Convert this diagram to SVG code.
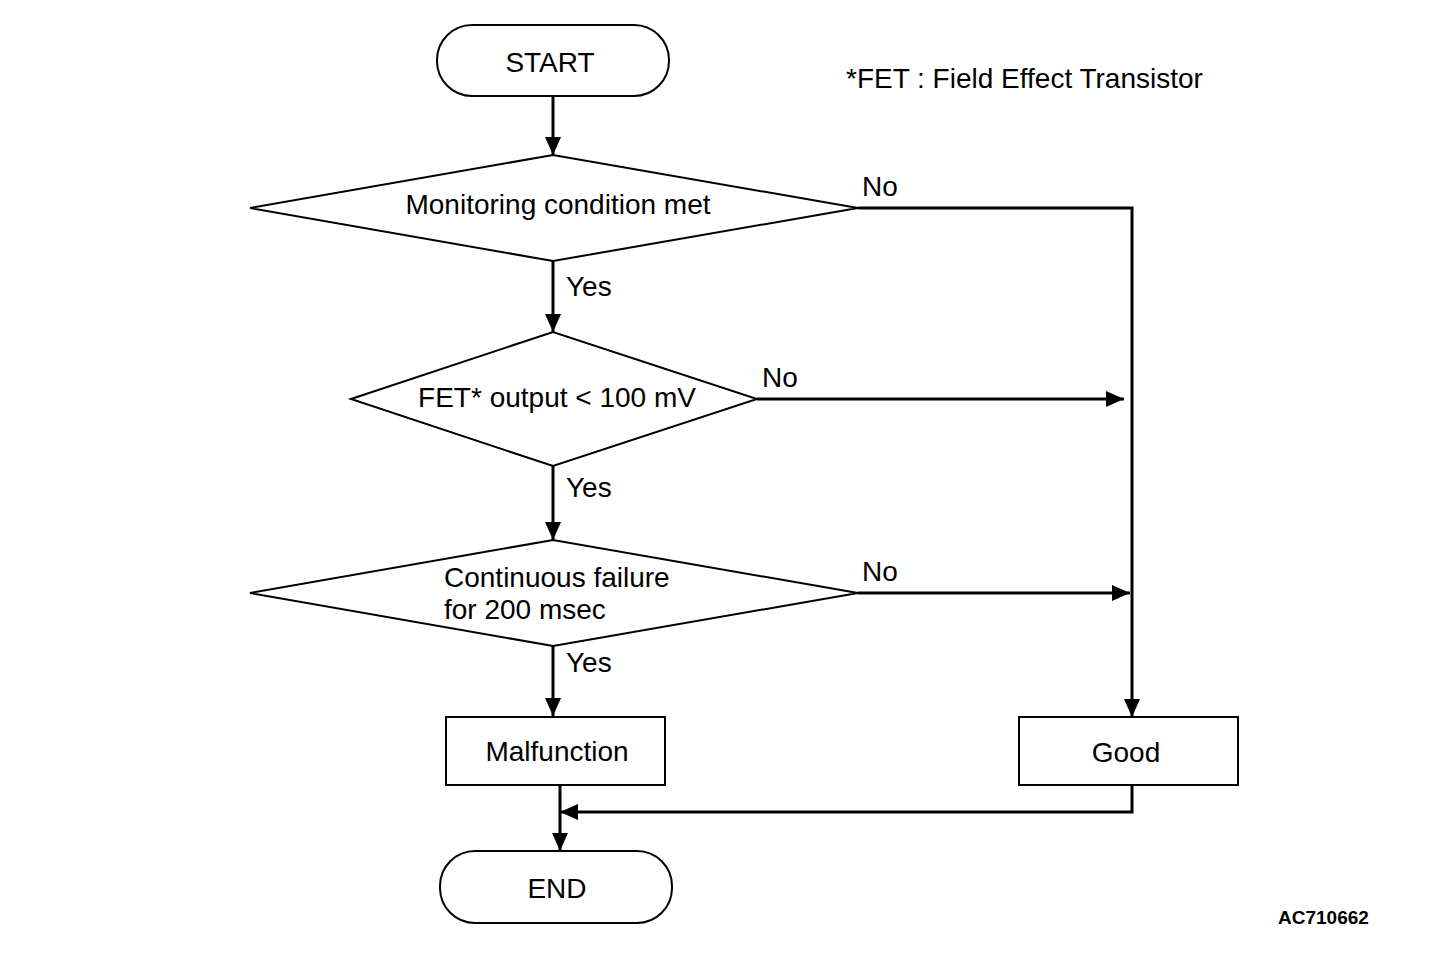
<svg xmlns="http://www.w3.org/2000/svg" width="1456" height="954" viewBox="0 0 1456 954">
<style>
.s{fill:#fff;stroke:#000;stroke-width:2}
.c{fill:none;stroke:#000;stroke-width:3}
text{font-family:"Liberation Sans",Arial,sans-serif;font-size:28px;fill:#000}
.m{text-anchor:middle}
</style>
<defs>
<marker id="b" markerWidth="18" markerHeight="20" refX="18" refY="10" orient="auto" markerUnits="userSpaceOnUse" viewBox="0 0 18 20">
<path d="M0,2 L18,10 L0,18 z" fill="#000"/>
</marker>
</defs>
<rect width="1456" height="954" fill="#fff"/>
<g id="connectors">
<path class="c" d="M553,96 V155" marker-end="url(#b)"/>
<path class="c" d="M553,261 V332" marker-end="url(#b)"/>
<path class="c" d="M553,466 V540" marker-end="url(#b)"/>
<path class="c" d="M553,646 V716" marker-end="url(#b)"/>
<path class="c" d="M858,208 H1132 V717" marker-end="url(#b)"/>
<path class="c" d="M757,399 H1124" marker-end="url(#b)"/>
<path class="c" d="M858,593 H1130" marker-end="url(#b)"/>
<path class="c" d="M1132,785 V812 H560" marker-end="url(#b)"/>
<path class="c" d="M560,785 V851" marker-end="url(#b)"/>
</g>
<g id="start">
<rect class="s" x="437" y="25" width="232" height="71" rx="35"/>
<text class="m" x="550" y="72">START</text>
</g>
<g id="note">
<text x="846" y="88">*FET : Field Effect Transistor</text>
</g>
<g id="d1">
<polygon class="s" points="250,208 553,155 858,208 553,261"/>
<text class="m" x="558" y="214">Monitoring condition met</text>
</g>
<g id="d2">
<polygon class="s" points="351,399 553,332 757,399 553,466"/>
<text class="m" x="557" y="407">FET* output &lt; 100 mV</text>
</g>
<g id="d3">
<polygon class="s" points="250,593 553,540 858,593 553,646"/>
<text x="444" y="587">Continuous failure</text>
<text x="444" y="619">for 200 msec</text>
</g>
<g id="labels">
<text x="862" y="196">No</text>
<text x="566" y="296">Yes</text>
<text x="762" y="387">No</text>
<text x="566" y="497">Yes</text>
<text x="862" y="581">No</text>
<text x="566" y="672">Yes</text>
</g>
<g id="malfunction">
<rect class="s" x="446" y="717" width="219" height="68"/>
<text class="m" x="557" y="761">Malfunction</text>
</g>
<g id="good">
<rect class="s" x="1019" y="717" width="219" height="68"/>
<text class="m" x="1126" y="762">Good</text>
</g>
<g id="end">
<rect class="s" x="440" y="851" width="232" height="72" rx="35"/>
<text class="m" x="557" y="898">END</text>
</g>
<text x="1278" y="924" style="font-weight:bold;font-size:19px">AC710662</text>
</svg>
